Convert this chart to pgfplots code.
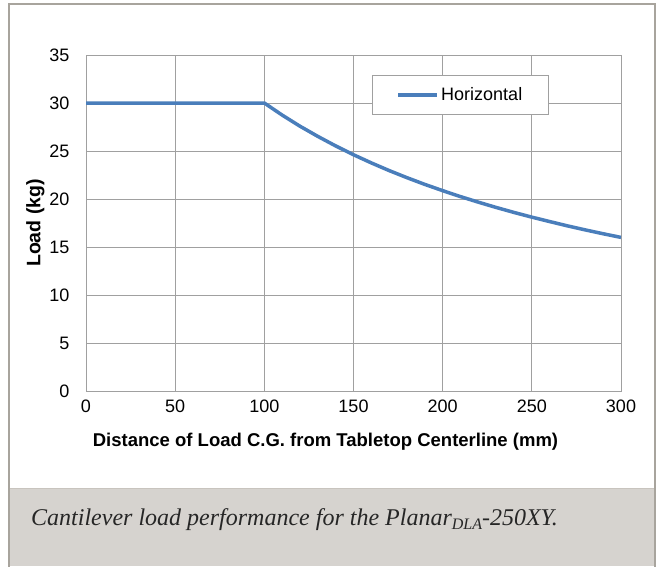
\documentclass[border=0pt]{standalone}
\usepackage{pgfplots}
\pgfplotsset{compat=1.18}
\usepackage{fontspec}
\setmainfont{Liberation Sans}
\newfontfamily\capfont{Liberation Serif}
\definecolor{bordergray}{RGB}{168,164,157}
\definecolor{capbg}{RGB}{214,211,207}
\definecolor{sepgray}{RGB}{200,196,190}
\definecolor{gridgray}{RGB}{160,160,160}
\definecolor{lineblue}{RGB}{74,126,187}
\begin{document}
\begin{tikzpicture}[x=1pt,y=1pt]
\path[use as bounding box] (0,0) rectangle (658,566);
\fill[white] (0,0) rectangle (658,566);
\fill[capbg] (10,0) rectangle (654,77);
\draw[sepgray, line width=1.5pt] (10,77.5) -- (654,77.5);
\draw[bordergray, line width=2.5pt] (9,-5) -- (9,562) -- (655,562) -- (655,-5);
\node[anchor=base west, inner sep=0pt, font=\capfont\itshape\fontsize{24}{28}\selectfont, text=black!85] at (31,41) {Cantilever load performance for the Planar\raisebox{-4pt}{\fontsize{16}{18}\selectfont DLA}-250XY.};
\begin{axis}[
  at={(86pt,175pt)}, anchor=south west,
  width=535pt, height=336pt, scale only axis,
  xmin=0, xmax=300, ymin=0, ymax=35,
  xtick={0,50,...,300}, ytick={0,5,...,35},
  grid=major,
  major grid style={gridgray, line width=1pt},
  axis line style={gridgray, line width=1pt},
  tick style={draw=none},
  /pgf/number format/assume math mode=true,
  ticklabel style={font=\fontsize{18}{20}\selectfont},
  yticklabel style={xshift=-13pt},
  xticklabel style={yshift=-5pt},
  xlabel={\textbf{Distance of Load C.G. from Tabletop Centerline (mm)}},
  ylabel={\textbf{Load (kg)}},
  xlabel style={font=\fontsize{18.5}{20}\selectfont, yshift=-14pt, xshift=-28pt},
  ylabel style={font=\fontsize{19.5}{21}\selectfont, yshift=-2pt},
  legend style={at={(0.535,0.94)}, anchor=north west, draw=gridgray, line width=1pt,
    font=\fontsize{18}{20}\selectfont, inner xsep=24pt, inner ysep=10pt},
  legend image code/.code={\draw[#1, line width=3.5pt] (0pt,0pt) -- (39pt,0pt);},
]
\addplot[lineblue, line width=3.5pt, line join=round] coordinates {
(0,30) (50,30) (100,30) (110,28.74) (120,27.58) (130,26.52) (140,25.53)
(150,24.61) (160,23.76) (170,22.96) (180,22.22) (190,21.52) (200,20.87)
(210,20.25) (220,19.67) (230,19.12) (240,18.60) (250,18.11) (260,17.65)
(270,17.20) (280,16.78) (290,16.38) (300,16.00)};
\addlegendentry{Horizontal}
\end{axis}
\end{tikzpicture}
\end{document}
